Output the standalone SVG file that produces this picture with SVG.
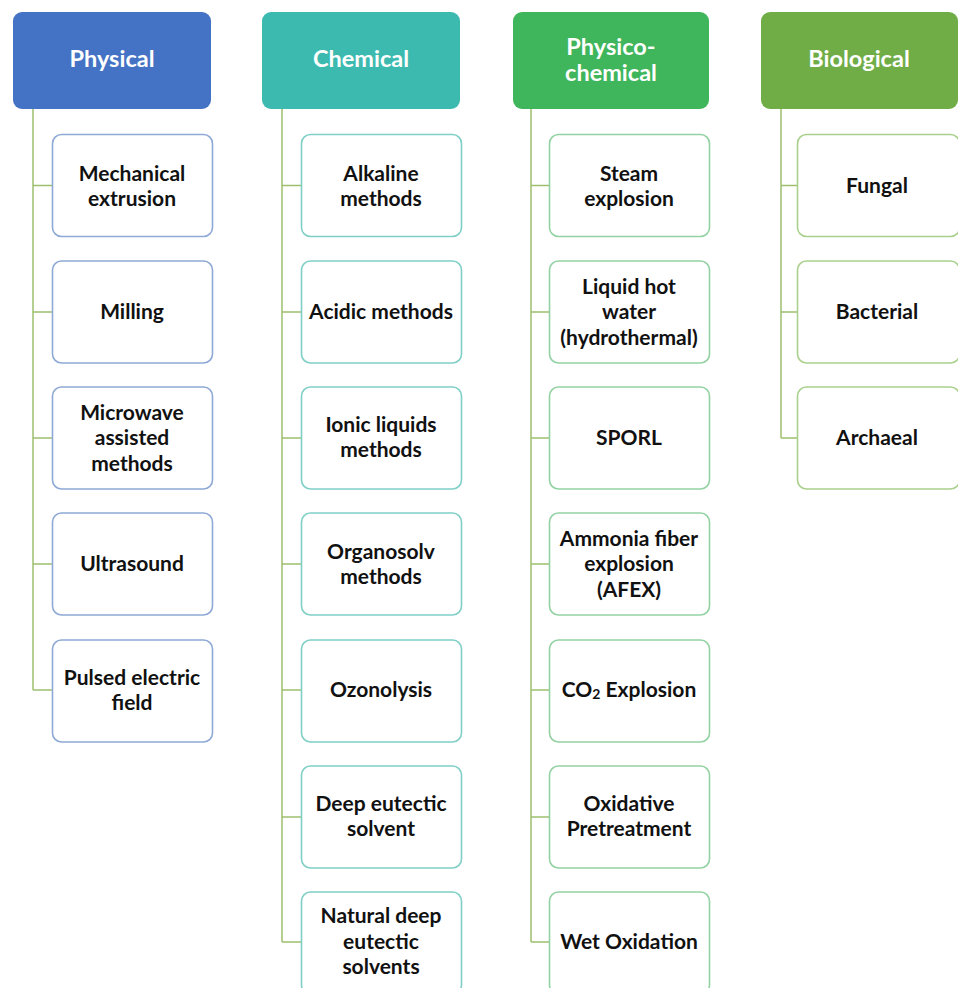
<svg xmlns="http://www.w3.org/2000/svg" width="958" height="988" viewBox="0 0 958 988">
<style>
.hd{stroke:none}
.bx{fill:#fff;stroke-width:1.6}
.t{font-family:Lato,"Open Sans","Liberation Sans",sans-serif;font-weight:bold;font-size:21px;fill:#111;text-anchor:middle;dominant-baseline:central}
.h{font-family:Lato,"Open Sans","Liberation Sans",sans-serif;font-weight:bold;font-size:23.5px;fill:#fff;text-anchor:middle;dominant-baseline:central}
.c{fill:none;stroke:#9dbf6e;stroke-width:1.5}
.p{stroke:#8ea9d6}
.ch{stroke:#7fcfc6}
.pc{stroke:#92d2a2}
.b{stroke:#a9d08c}
</style>
<rect width="958" height="988" fill="#fff"/>
<g id="connectors">
<path class="c" d="M33 109V690M33 185.5H52M33 312H52M33 438H52M33 564H52M33 690H52"/>
<path class="c" d="M282 109V942M282 185.5H301M282 312H301M282 438H301M282 564H301M282 690H301M282 817H301M282 942H301"/>
<path class="c" d="M531 109V942M531 185.5H549M531 312H549M531 438H549M531 564H549M531 690H549M531 817H549M531 942H549"/>
<path class="c" d="M781 109V438M781 185.5H797M781 312H797M781 438H797"/>
</g>
<g id="physical"><rect class="hd" x="13" y="12" width="198" height="97" rx="9" fill="#4472c4"/><text class="h" x="112" y="58">Physical</text></g>
<g id="chemical"><rect class="hd" x="262" y="12" width="198" height="97" rx="9" fill="#3dbab0"/><text class="h" x="361" y="58">Chemical</text></g>
<g id="physicochemical"><rect class="hd" x="513" y="12" width="196" height="97" rx="9" fill="#3fb55c"/><text class="h" x="611" y="46">Physico-</text><text class="h" x="611" y="72">chemical</text></g>
<g id="biological"><rect class="hd" x="761" y="12" width="197" height="97" rx="9" fill="#70ad47"/><text class="h" x="859" y="58">Biological</text></g>

<g id="p1"><rect class="bx p" x="52.5" y="134.5" width="160" height="102" rx="9"/><text class="t" x="132" y="172">Mechanical</text><text class="t" x="132" y="197">extrusion</text></g>
<g id="p2"><rect class="bx p" x="52.5" y="261" width="160" height="102" rx="9"/><text class="t" x="132" y="310">Milling</text></g>
<g id="p3"><rect class="bx p" x="52.5" y="387" width="160" height="102" rx="9"/><text class="t" x="132" y="411">Microwave</text><text class="t" x="132" y="436">assisted</text><text class="t" x="132" y="462">methods</text></g>
<g id="p4"><rect class="bx p" x="52.5" y="513" width="160" height="102" rx="9"/><text class="t" x="132" y="562">Ultrasound</text></g>
<g id="p5"><rect class="bx p" x="52.5" y="640" width="160" height="102" rx="9"/><text class="t" x="132" y="676">Pulsed electric</text><text class="t" x="132" y="701">field</text></g>

<g id="c1"><rect class="bx ch" x="301.5" y="134.5" width="160" height="102" rx="9"/><text class="t" x="381" y="172">Alkaline</text><text class="t" x="381" y="197">methods</text></g>
<g id="c2"><rect class="bx ch" x="301.5" y="261" width="160" height="102" rx="9"/><text class="t" x="381" y="310">Acidic methods</text></g>
<g id="c3"><rect class="bx ch" x="301.5" y="387" width="160" height="102" rx="9"/><text class="t" x="381" y="423">Ionic liquids</text><text class="t" x="381" y="448">methods</text></g>
<g id="c4"><rect class="bx ch" x="301.5" y="513" width="160" height="102" rx="9"/><text class="t" x="381" y="550">Organosolv</text><text class="t" x="381" y="575">methods</text></g>
<g id="c5"><rect class="bx ch" x="301.5" y="640" width="160" height="102" rx="9"/><text class="t" x="381" y="688">Ozonolysis</text></g>
<g id="c6"><rect class="bx ch" x="301.5" y="766" width="160" height="102" rx="9"/><text class="t" x="381" y="802">Deep eutectic</text><text class="t" x="381" y="827">solvent</text></g>
<g id="c7"><rect class="bx ch" x="301.5" y="892" width="160" height="102" rx="9"/><text class="t" x="381" y="914">Natural deep</text><text class="t" x="381" y="940">eutectic</text><text class="t" x="381" y="965">solvents</text></g>

<g id="pc1"><rect class="bx pc" x="549.5" y="134.5" width="160" height="102" rx="9"/><text class="t" x="629" y="172">Steam</text><text class="t" x="629" y="197">explosion</text></g>
<g id="pc2"><rect class="bx pc" x="549.5" y="261" width="160" height="102" rx="9"/><text class="t" x="629" y="285">Liquid hot</text><text class="t" x="629" y="310">water</text><text class="t" x="629" y="336">(hydrothermal)</text></g>
<g id="pc3"><rect class="bx pc" x="549.5" y="387" width="160" height="102" rx="9"/><text class="t" x="629" y="436">SPORL</text></g>
<g id="pc4"><rect class="bx pc" x="549.5" y="513" width="160" height="102" rx="9"/><text class="t" x="629" y="537">Ammonia fiber</text><text class="t" x="629" y="562">explosion</text><text class="t" x="629" y="588">(AFEX)</text></g>
<g id="pc5"><rect class="bx pc" x="549.5" y="640" width="160" height="102" rx="9"/><text class="t" x="629" y="688">CO<tspan font-size="14" dy="5">2</tspan><tspan dy="-5"> Explosion</tspan></text></g>
<g id="pc6"><rect class="bx pc" x="549.5" y="766" width="160" height="102" rx="9"/><text class="t" x="629" y="802">Oxidative</text><text class="t" x="629" y="827">Pretreatment</text></g>
<g id="pc7"><rect class="bx pc" x="549.5" y="892" width="160" height="102" rx="9"/><text class="t" x="629" y="940">Wet Oxidation</text></g>

<g id="b1"><rect class="bx b" x="797.5" y="134.5" width="162" height="102" rx="9"/><text class="t" x="877" y="184">Fungal</text></g>
<g id="b2"><rect class="bx b" x="797.5" y="261" width="162" height="102" rx="9"/><text class="t" x="877" y="310">Bacterial</text></g>
<g id="b3"><rect class="bx b" x="797.5" y="387" width="162" height="102" rx="9"/><text class="t" x="877" y="436">Archaeal</text></g>
</svg>
